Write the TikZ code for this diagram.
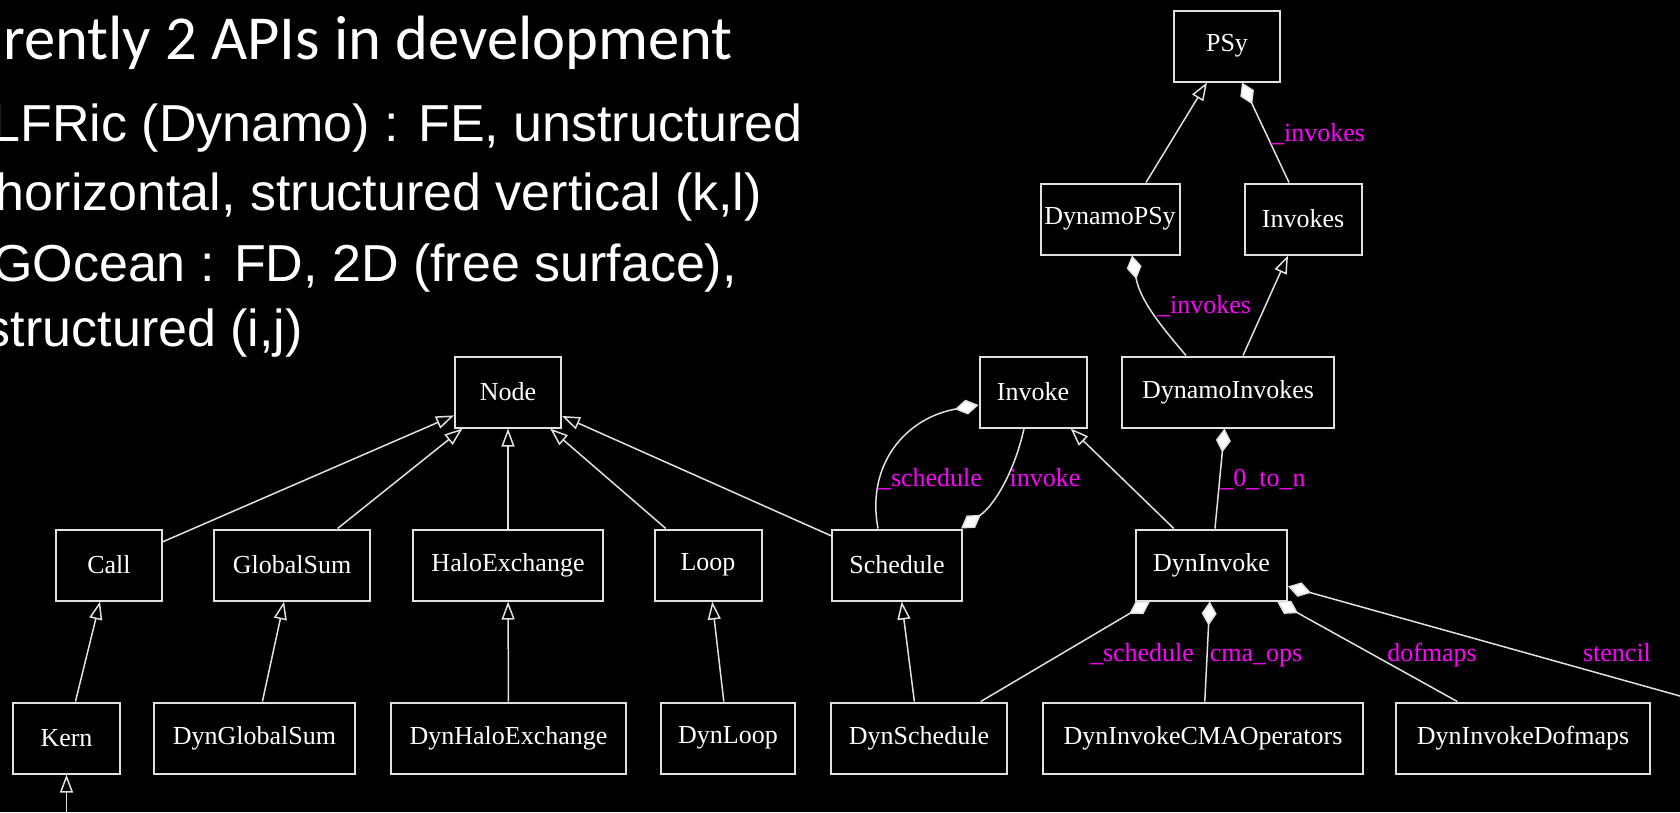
\documentclass[tikz,border=0pt]{standalone}
\usepackage{fontspec}
\setmainfont{Liberation Serif}
\newfontfamily\calib{Carlito}
\newfontfamily\arialf{Liberation Sans}
\usetikzlibrary{arrows.meta,calc}
\definecolor{linec}{RGB}{225,225,225}
\definecolor{labc}{RGB}{255,0,255}
\begin{document}
\begin{tikzpicture}[x=1pt,y=-1pt,
  box/.style={draw=linec, line width=2pt, fill=black, text=white,
    font=\fontsize{26}{30}\selectfont, minimum height=71pt, inner sep=0pt},
  inh/.style={draw=linec, line width=1.5pt, -{Triangle[length=18pt,width=13pt,fill=black]}},
  comp/.style={draw=linec, line width=1.5pt, -{Diamond[length=24pt,width=15pt,fill=white]}},
  lab/.style={text=labc, font=\fontsize{26}{30}\selectfont, inner sep=0pt, anchor=base},
  bul/.style={text=white, inner sep=0pt, anchor=base east}
]
\useasboundingbox (0,0) rectangle (1680,812);
\clip (0,0) rectangle (1680,812);
\fill[black] (0,0) rectangle (1680,812);

% slide text
\node[bul, font=\calib\fontsize{62.6}{70}\selectfont] (t1) at (733,59) {rently 2 APIs in development};
\node[bul, font=\arialf\fontsize{52}{60}\selectfont] (t2) at (803,141) {LFRic (Dynamo) : FE, unstructured};
\node[bul, font=\arialf\fontsize{52}{60}\selectfont] (t3) at (762,210) {horizontal, structured vertical (k,l)};
\node[bul, font=\arialf\fontsize{52}{60}\selectfont] (t4) at (737,281) {GOcean : FD, 2D (free surface),};
\node[bul, font=\arialf\fontsize{52}{60}\selectfont] (t5) at (303,346) {structured (i,j)};

% nodes
\node[box, minimum width=106pt] (PSy) at (1227,46) {PSy};
\node[box, minimum width=139pt] (DynamoPSy) at (1110,219) {DynamoPSy};
\node[box, minimum width=117pt] (Invokes) at (1303,219) {Invokes};
\node[box, minimum width=106pt] (Node) at (508,392) {Node};
\node[box, minimum width=107pt] (Invoke) at (1033,392) {Invoke};
\node[box, minimum width=212pt] (DynamoInvokes) at (1228,392) {DynamoInvokes};
\node[box, minimum width=106pt] (Call) at (109,565) {Call};
\node[box, minimum width=156pt] (GlobalSum) at (292,565) {GlobalSum};
\node[box, minimum width=190pt] (HaloExchange) at (508,565) {HaloExchange};
\node[box, minimum width=107pt] (Loop) at (708,565) {Loop};
\node[box, minimum width=130pt] (Schedule) at (897,565) {Schedule};
\node[box, minimum width=151pt] (DynInvoke) at (1211.5,565) {DynInvoke};
\node[box, minimum width=107pt] (Kern) at (66.5,738) {Kern};
\node[box, minimum width=201pt] (DynGlobalSum) at (254.5,738) {DynGlobalSum};
\node[box, minimum width=235pt] (DynHaloExchange) at (508.5,738) {DynHaloExchange};
\node[box, minimum width=134pt] (DynLoop) at (728,738) {DynLoop};
\node[box, minimum width=176pt] (DynSchedule) at (919,738) {DynSchedule};
\node[box, minimum width=320pt] (DynInvokeCMAOperators) at (1203,738) {DynInvokeCMAOperators};
\node[box, minimum width=254pt] (DynInvokeDofmaps) at (1523,738) {DynInvokeDofmaps};

\coordinate (kernbelow) at (66.5,830);
\coordinate (stencilend) at (1700,701.6);

% top part
\draw[inh] ([xshift=36pt]DynamoPSy.north) -- ([xshift=-20pt]PSy.south);
\draw[comp] ([xshift=-14pt]Invokes.north) -- ([xshift=15pt]PSy.south);
\node[lab] (l1) at (1318,141) {\_invokes};
\draw[comp] ([xshift=-42pt]DynamoInvokes.north) .. controls (1160,325) and (1140,300) .. ([xshift=22pt]DynamoPSy.south);
\node[lab] (l2) at (1204,313) {\_invokes};
\draw[inh] ([xshift=15pt]DynamoInvokes.north) -- ([xshift=-15pt]Invokes.south);

% Node hierarchy
\draw[inh] (Call) -- (Node);
\draw[inh] (GlobalSum) -- (Node);
\draw[inh] (HaloExchange) -- (Node);
\draw[inh] (Loop) -- (Node);
\draw[inh] (Schedule) -- (Node);
\draw[inh] (Kern) -- (Call);
\draw[inh] (DynGlobalSum) -- (GlobalSum);
\draw[inh] (DynHaloExchange) -- (HaloExchange);
\draw[inh] (DynLoop) -- (Loop);
\draw[inh] (DynSchedule) -- (Schedule);
\draw[inh] (kernbelow) -- (Kern.south);

% Invoke / Schedule
\draw[comp] ([xshift=-19pt]Schedule.north) .. controls (866,465) and (905,418) .. ([yshift=-13pt]Invoke.west);
\node[lab] (l3) at (930,486) {\_schedule};
\draw[comp] ([xshift=-9pt]Invoke.south) .. controls (1015,470) and (995,505) .. ([xshift=-2pt]Schedule.north east);
\node[lab] (l4) at (1045,486) {invoke};
\draw[inh] (DynInvoke) -- (Invoke);
\draw[comp] (DynInvoke) -- (DynamoInvokes);
\node[lab] (l5) at (1263,486) {\_0\_to\_n};

% DynInvoke compositions
\draw[comp] (DynSchedule) -- (DynInvoke);
\node[lab] (l6) at (1142,661) {\_schedule};
\draw[comp] (DynInvokeCMAOperators) -- (DynInvoke);
\node[lab] (l7) at (1256,661) {cma\_ops};
\draw[comp] (DynInvokeDofmaps) -- (DynInvoke);
\node[lab] (l8) at (1432,661) {dofmaps};
\draw[comp] (stencilend) -- (DynInvoke);
\node[lab] (l9) at (1617,661) {stencil};
\end{tikzpicture}
\end{document}
